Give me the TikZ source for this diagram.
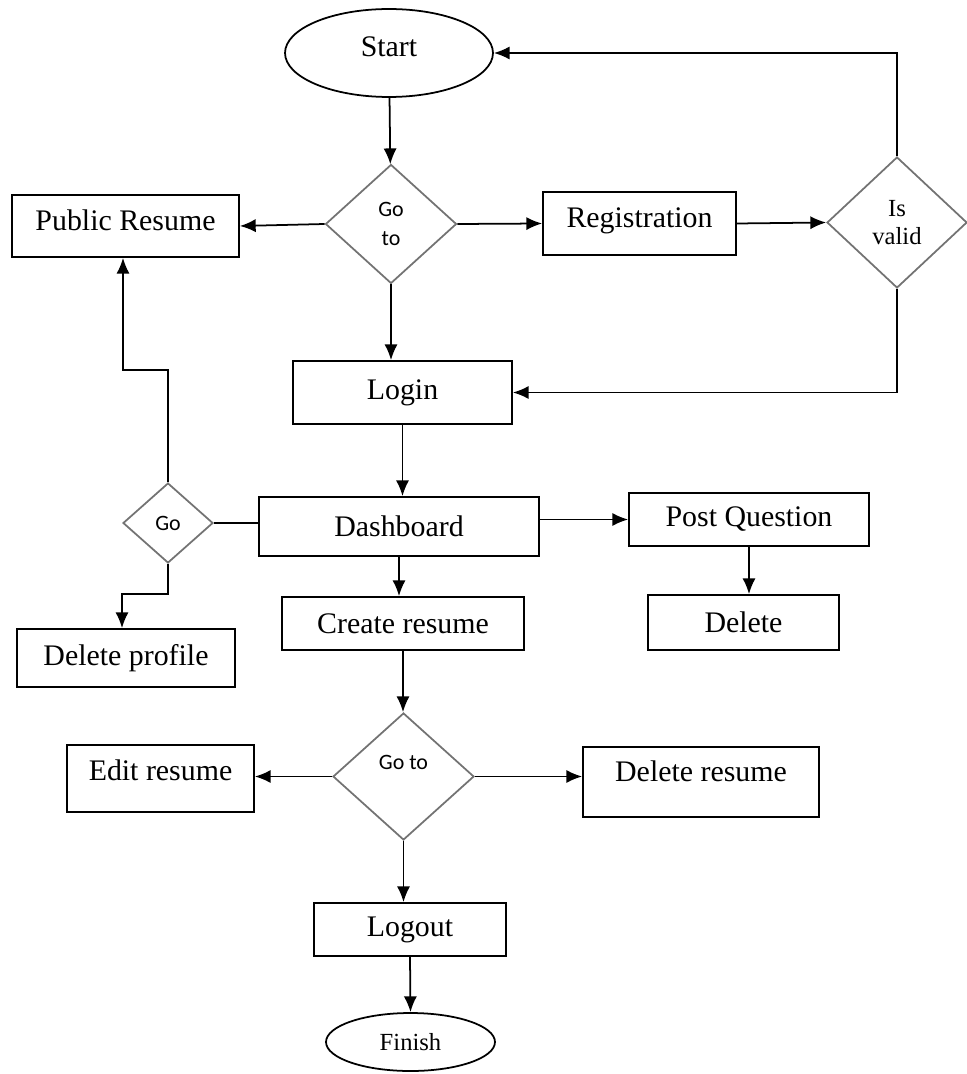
\documentclass[tikz,border=0pt]{standalone}
\usepackage{fontspec}
\setmainfont{Liberation Serif}
\newfontfamily\calib{Carlito}
\usetikzlibrary{positioning, shapes.geometric, arrows.meta}
\tikzstyle{startstop} = [ellipse, draw=black, line width=1pt, inner sep=0pt, text centered, font=\fontsize{17}{20}\selectfont]
\tikzstyle{process} = [rectangle, draw=black, line width=1pt, inner sep=0pt, text centered, font=\fontsize{17}{20}\selectfont]
\tikzstyle{decision} = [diamond, draw=black!55, line width=1pt, inner sep=0pt, align=center, font=\calib\fontsize{12.5}{16.5}\selectfont]
\tikzstyle{arrow} = [line width=1pt, -{Latex[length=9pt,width=7.5pt]}]
\tikzstyle{line} = [line width=1pt]

\begin{document}
\begin{tikzpicture}[x=0.02cm, y=-0.02cm]
  \useasboundingbox (0,0) rectangle (966,1074);
  % shapes
  \node (start) [startstop, minimum width=4.16cm, minimum height=1.76cm, text height=11.6pt, text depth=7.2pt] at (389,53) {Start};
  \node (goto1) [decision, minimum width=2.62cm, minimum height=2.38cm] at (391,224) {Go\\to};
  \node (pubres) [process, minimum width=4.54cm, minimum height=1.24cm, text height=11.6pt, text depth=7pt] at (125.5,226) {Public Resume};
  \node (reg) [process, minimum width=3.86cm, minimum height=1.26cm, text height=11.6pt, text depth=7pt] at (639.5,223.5) {Registration};
  \node (valid) [decision, minimum width=2.8cm, minimum height=2.62cm, font=\rmfamily\fontsize{14}{15.5}\selectfont] at (897,222.5) {Is\\valid};
  \node (login) [process, minimum width=4.38cm, minimum height=1.26cm] at (402.5,392.5) {Login};
  \node (dash) [process, minimum width=5.6cm, minimum height=1.18cm] at (399,526.5) {Dashboard};
  \node (postq) [process, minimum width=4.8cm, minimum height=1.06cm] at (749,519.5) {Post Question};
  \node (delq) [process, minimum width=3.82cm, minimum height=1.1cm] at (743.5,622.5) {Delete};
  \node (go) [decision, minimum width=1.8cm, minimum height=1.6cm] at (168,523) {Go};
  \node (delprof) [process, minimum width=4.36cm, minimum height=1.16cm] at (126,658) {Delete profile};
  \node (create) [process, minimum width=4.84cm, minimum height=1.06cm] at (403,623.5) {Create resume};
  \node (goto2) [decision, minimum width=2.82cm, minimum height=2.54cm, text height=8.5pt, text depth=16.5pt] at (403.5,776.5) {Go to};
  \node (edit) [process, minimum width=3.74cm, minimum height=1.34cm, text height=11.6pt, text depth=8.9pt] at (160.5,778.5) {Edit resume};
  \node (delres) [process, minimum width=4.72cm, minimum height=1.4cm, text height=11.6pt, text depth=11.8pt] at (701,782) {Delete resume};
  \node (logout) [process, minimum width=3.84cm, minimum height=1.06cm] at (410,929.5) {Logout};
  \node (finish) [startstop, minimum width=3.38cm, minimum height=1.16cm, font=\fontsize{14}{17}\selectfont] at (410.5,1042) {Finish};
  \coordinate (bend1) at (123,370);
  \coordinate (bend2) at (122,594);

  % connectors
  \draw [arrow] (start) -- (goto1);
  \draw [arrow] (goto1.west) -- (pubres.east);
  \draw [arrow] (goto1.east) -- (reg.west);
  \draw [arrow] (reg.east) -- (valid.west);
  \draw [arrow] (valid.north) |- (start.east);
  \draw [arrow] (valid.south) |- (login.east);
  \draw [arrow] (goto1.south) -- (goto1.south |- login.north);
  \draw [arrow] (login.south) -- (login.south |- dash.north);
  \draw [arrow] (dash.east |- postq.west) -- (postq.west);
  \draw [arrow] (postq.south) -- (postq.south |- delq.north);
  \draw [line] (dash.west |- go.east) -- (go.east);
  \draw [arrow] (go.north) |- (bend1) -- (bend1 |- pubres.south);
  \draw [arrow] (go.south) |- (bend2) -- (bend2 |- delprof.north);
  \draw [arrow] (dash.south) -- (dash.south |- create.north);
  \draw [arrow] (create.south) -- (create.south |- goto2.north);
  \draw [arrow] (goto2.west) -- (goto2.west -| edit.east);
  \draw [arrow] (goto2.east) -- (goto2.east -| delres.west);
  \draw [arrow] (goto2.south) -- (goto2.south |- logout.north);
  \draw [arrow] (logout.south) -- (finish.north);
\end{tikzpicture}
\end{document}
